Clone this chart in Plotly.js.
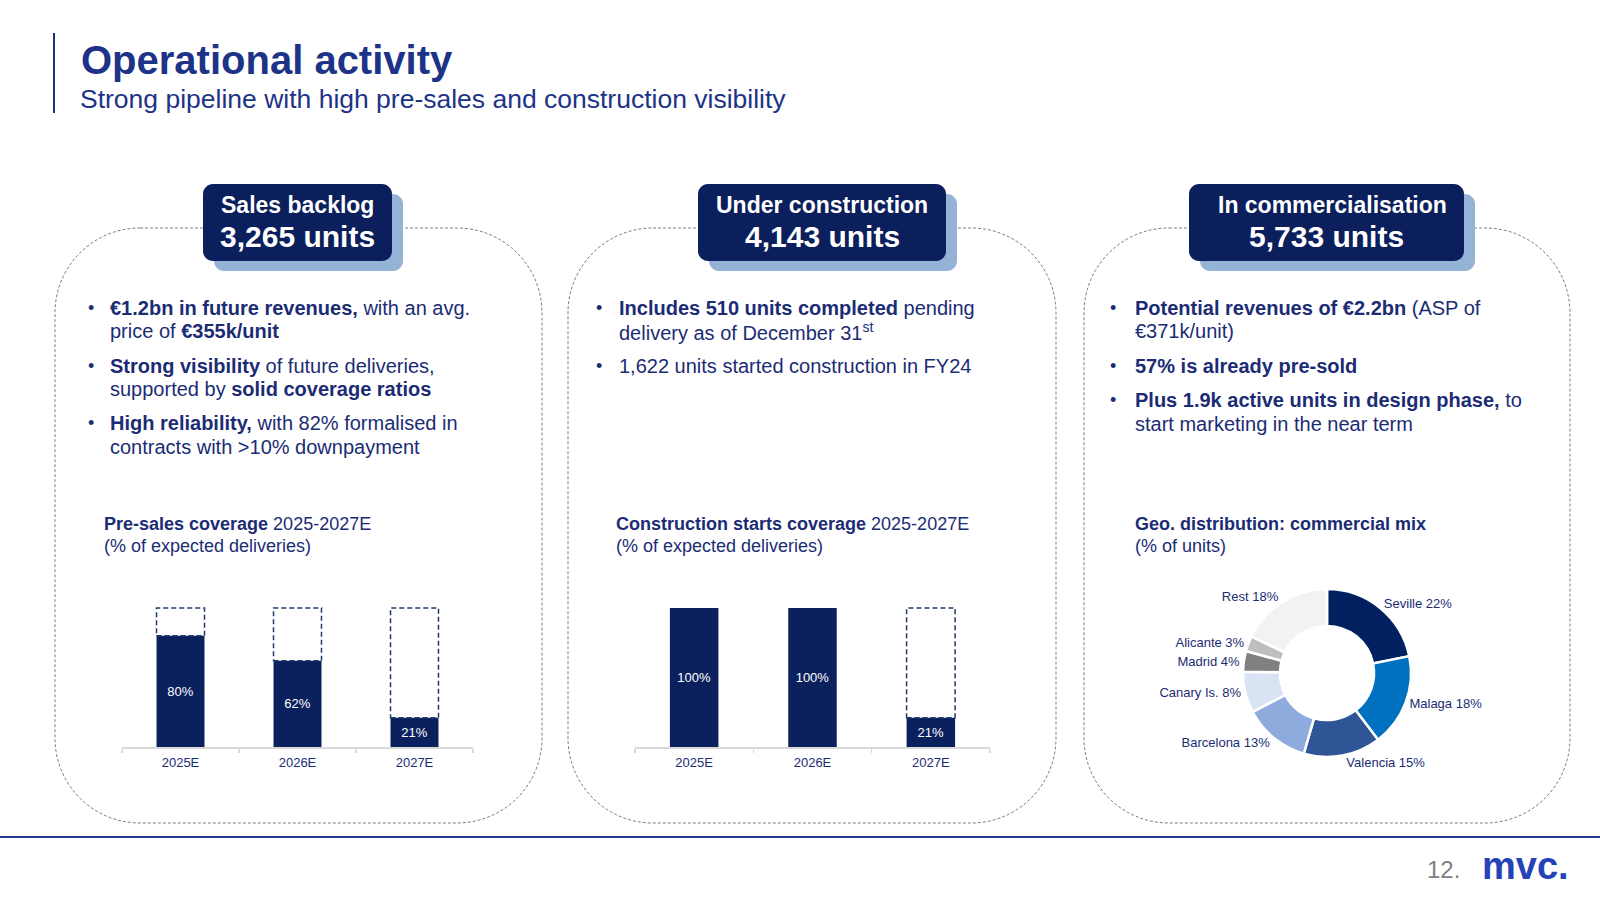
<!DOCTYPE html>
<html>
<head>
<meta charset="utf-8">
<script src="https://cdn.plot.ly/plotly-3.0.1.min.js"></script>
<style>html,body{margin:0;padding:0;background:#fff;}#chart{width:1600px;height:900px;}</style>
</head>
<body>
<div id="chart"></div>
<script>
// ---------- data ----------
const years = ['2025E', '2026E', '2027E'];
const presalesCoverage = [80, 62, 21];
const constructionCoverage = [100, 100, 21];
const geoLabels = ['Seville', 'Malaga', 'Valencia', 'Barcelona', 'Canary Is.', 'Madrid', 'Alicante', 'Rest'];
const geoValues = [22, 18, 15, 13, 8, 4, 3, 18];
const geoColors = ['#002060', '#0070C0', '#2F5597', '#8FAADC', '#DAE3F3', '#808080', '#BFBFBF', '#F2F2F2'];
const headerTitles = ['Sales backlog', 'Under construction', 'In commercialisation'];
const headerUnits = ['3,265 units', '4,143 units', '5,733 units'];

// ---------- helpers ----------
const W = 1600, H = 900;
const X = p => p / W;
const Y = p => 1 - p / H;
const F = 'Liberation Sans, Arial, sans-serif';
const NAVY = '#1B2C74';
const TITLE = '#1D3387';
const BOX = '#0B1F5C';
const SHADOW = '#95B3D7';
const BAR = '#0A215E';

function rrect(x0, y0, x1, y1, r) {
  const k = 0.5523 * r;
  return `M ${X(x0 + r)} ${Y(y0)} L ${X(x1 - r)} ${Y(y0)} ` +
    `C ${X(x1 - r + k)} ${Y(y0)} ${X(x1)} ${Y(y0 + r - k)} ${X(x1)} ${Y(y0 + r)} ` +
    `L ${X(x1)} ${Y(y1 - r)} C ${X(x1)} ${Y(y1 - r + k)} ${X(x1 - r + k)} ${Y(y1)} ${X(x1 - r)} ${Y(y1)} ` +
    `L ${X(x0 + r)} ${Y(y1)} C ${X(x0 + r - k)} ${Y(y1)} ${X(x0)} ${Y(y1 - r + k)} ${X(x0)} ${Y(y1 - r)} ` +
    `L ${X(x0)} ${Y(y0 + r)} C ${X(x0)} ${Y(y0 + r - k)} ${X(x0 + r - k)} ${Y(y0)} ${X(x0 + r)} ${Y(y0)} Z`;
}
function A(text, x, y, size, opts) {
  return Object.assign({
    text: text, x: X(x), y: Y(y), xref: 'paper', yref: 'paper', showarrow: false,
    xanchor: 'left', yanchor: 'middle', font: { family: F, size: size, color: NAVY }
  }, opts || {});
}

const shapes = [];
const annotations = [];

// left accent line + footer line
shapes.push({ type: 'line', xref: 'paper', yref: 'paper', x0: X(54), x1: X(54), y0: Y(33), y1: Y(113), line: { color: TITLE, width: 2 } });
shapes.push({ type: 'line', xref: 'paper', yref: 'paper', x0: 0, x1: 1, y0: Y(837), y1: Y(837), line: { color: '#1F3A8A', width: 2 } });

// panels
const panels = [[55, 542], [568, 1056], [1084, 1570]];
panels.forEach(p => {
  shapes.push({ type: 'path', xref: 'paper', yref: 'paper', path: rrect(p[0], 228, p[1], 823, 85),
    line: { color: '#7F7F7F', width: 1, dash: '3px,2px' }, fillcolor: 'rgba(0,0,0,0)', layer: 'below' });
});

// header boxes
const boxes = [[203, 392], [698, 946], [1189, 1464]];
const line1X = [297, 822, 1332];
boxes.forEach((b, i) => {
  shapes.push({ type: 'path', xref: 'paper', yref: 'paper', path: rrect(b[0] + 11, 194, b[1] + 11, 271, 10),
    line: { width: 0 }, fillcolor: SHADOW, layer: 'above' });
  shapes.push({ type: 'path', xref: 'paper', yref: 'paper', path: rrect(b[0], 184, b[1], 261, 10),
    line: { width: 0 }, fillcolor: BOX, layer: 'above' });
  annotations.push(A('<b>' + headerTitles[i] + '</b>', line1X[i], 205, 23, { xanchor: 'center', font: { family: F, size: 23, color: '#FFFFFF' } }));
  annotations.push(A('<b>' + headerUnits[i] + '</b>', (b[0] + b[1]) / 2, 237, 30, { xanchor: 'center', font: { family: F, size: 30, color: '#FFFFFF' } }));
});

// title
annotations.push(A('<b>Operational activity</b>', 79, 60, 40, { font: { family: F, size: 40, color: TITLE } }));
annotations.push(A('Strong pipeline with high pre-sales and construction visibility', 78, 99, 26.5, { font: { family: F, size: 26.5, color: TITLE } }));

// bullets
function bullet(x, y) { annotations.push(A('•', x, y, 18)); }
// panel 1
[308, 366, 423].forEach(y => bullet(86, y));
annotations.push(A('<b>€1.2bn in future revenues,</b> with an avg.', 108, 308, 20));
annotations.push(A('price of <b>€355k/unit</b>', 108, 331, 20));
annotations.push(A('<b>Strong visibility</b> of future deliveries,', 108, 366, 20));
annotations.push(A('supported by <b>solid coverage ratios</b>', 108, 389, 20));
annotations.push(A('<b>High reliability,</b> with 82% formalised in', 108, 423, 20));
annotations.push(A('contracts with &gt;10% downpayment', 108, 447, 20));
// panel 2
[308, 366].forEach(y => bullet(594, y));
annotations.push(A('<b>Includes 510 units completed</b> pending', 617, 308, 20));
annotations.push(A('delivery as of December 31<sup>st</sup>', 617, 331, 20));
annotations.push(A('1,622 units started construction in FY24', 617, 366, 20));
// panel 3
[308, 366, 400].forEach(y => bullet(1108, y));
annotations.push(A('<b>Potential revenues of €2.2bn</b> (ASP of', 1133, 308, 20));
annotations.push(A('€371k/unit)', 1133, 331, 20));
annotations.push(A('<b>57% is already pre-sold</b>', 1133, 366, 20));
annotations.push(A('<b>Plus 1.9k active units in design phase,</b> to', 1133, 400, 20));
annotations.push(A('start marketing in the near term', 1133, 424, 20));

// chart titles
annotations.push(A('<b>Pre-sales coverage</b> 2025-2027E', 102, 524, 18));
annotations.push(A('(% of expected deliveries)', 102, 546, 18));
annotations.push(A('<b>Construction starts coverage</b> 2025-2027E', 614, 524, 18));
annotations.push(A('(% of expected deliveries)', 614, 546, 18));
annotations.push(A('<b>Geo. distribution: commercial mix</b>', 1133, 524, 18));
annotations.push(A('(% of units)', 1133, 546, 18));

// footer
annotations.push(A('12.', 1425, 869, 24, { font: { family: F, size: 24, color: '#808080' } }));
annotations.push(A('<b>mvc.</b>', 1480, 866, 38, { font: { family: F, size: 38, color: '#2443B8' } }));

// ---------- bar charts ----------
const BW = 0.41;
const xIdx = years.map((_, i) => i);
const bounds = years.map((_, i) => i - 0.5).concat([years.length - 0.5]);

function remainderShapes(vals, xr, yr) {
  vals.forEach((v, i) => {
    if (v < 100) {
      shapes.push({ type: 'rect', xref: xr, yref: yr, x0: i - BW / 2, x1: i + BW / 2, y0: v, y1: 100,
        line: { color: '#1F3864', width: 1.5, dash: '5px,3px' }, fillcolor: 'rgba(0,0,0,0)', layer: 'above' });
    }
  });
}
remainderShapes(presalesCoverage, 'x', 'y');
remainderShapes(constructionCoverage, 'x2', 'y2');

function barTrace(vals, xa, ya) {
  return {
    type: 'bar', x: xIdx, y: vals, width: BW, xaxis: xa, yaxis: ya,
    marker: { color: BAR, line: { width: 0 } },
    text: vals.map(v => v + '%'), textposition: 'inside', insidetextanchor: 'middle',
    textangle: 0, constraintext: 'none',
    textfont: { family: F, size: 13, color: '#FFFFFF' }, hoverinfo: 'skip', showlegend: false
  };
}

function xAxis(d0, d1, anchor) {
  return {
    domain: [X(d0), X(d1)], range: [-0.5, years.length - 0.5], anchor: anchor,
    tickmode: 'array', tickvals: xIdx, ticktext: years, ticks: '', ticklabelstandoff: 3,
    showline: true, linecolor: '#D9D9D9', linewidth: 1.5, showgrid: false, zeroline: false,
    minor: { tickmode: 'array', tickvals: bounds, ticks: 'outside', ticklen: 4, tickcolor: '#D9D9D9', tickwidth: 1.5, showgrid: false },
    tickfont: { family: F, size: 13, color: NAVY }, fixedrange: true
  };
}
function yAxis(anchor) {
  return { domain: [Y(747), Y(747 - 110 * 1.39)], range: [0, 110], visible: false, anchor: anchor, fixedrange: true };
}

const pie = {
  type: 'pie', labels: geoLabels, values: geoValues, sort: false, direction: 'clockwise', rotation: 0,
  hole: 0.56, domain: { x: [X(1243), X(1411)], y: [Y(757), Y(589)] },
  marker: { colors: geoColors, line: { color: '#FFFFFF', width: 2.5 } },
  textposition: 'outside', texttemplate: '%{label} %{value}%',
  outsidetextfont: { family: F, size: 13, color: NAVY },
  hoverinfo: 'skip', showlegend: false, automargin: false
};

const data = [
  barTrace(presalesCoverage, 'x', 'y'),
  barTrace(constructionCoverage, 'x2', 'y2'),
  pie
];

const layout = {
  width: W, height: H, margin: { l: 0, r: 0, t: 0, b: 0 },
  paper_bgcolor: '#FFFFFF', plot_bgcolor: 'rgba(0,0,0,0)',
  showlegend: false, hovermode: false,
  xaxis: xAxis(122, 473, 'y'), yaxis: yAxis('x'),
  xaxis2: xAxis(635, 990, 'y2'), yaxis2: yAxis('x2'),
  shapes: shapes, annotations: annotations,
  font: { family: F }
};

Plotly.newPlot('chart', data, layout, { displayModeBar: false, staticPlot: true });
</script>
</body>
</html>
